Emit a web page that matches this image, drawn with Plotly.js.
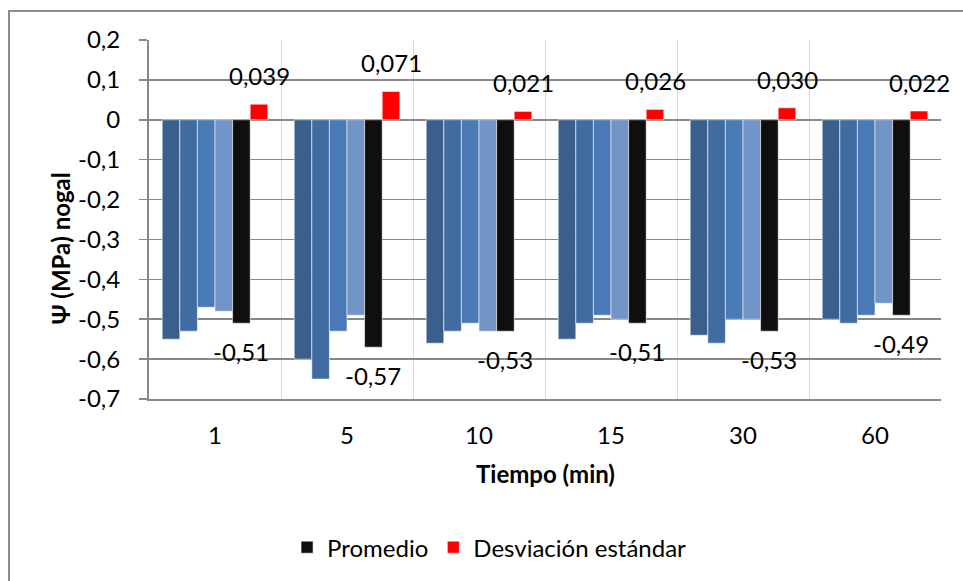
<!DOCTYPE html>
<html>
<head>
<meta charset="utf-8">
<script src="https://cdn.plot.ly/plotly-3.0.1.min.js"></script>
<style>
  html, body { margin: 0; padding: 0; background: #fff; }
  #wrap { position: relative; width: 963px; height: 581px; overflow: hidden; }
  #chart { width: 963px; height: 581px; }
  #frame { position: absolute; left: 8px; top: 10px; width: 970px; height: 600px;
           border-left: 2px solid #8c8c8c; border-top: 2px solid #8c8c8c; pointer-events: none; }
</style>
</head>
<body>
<div id="wrap">
  <div id="chart"></div>
  <div id="frame"></div>
</div>
<script>
// Tiempo (min) en que se midió el potencial hídrico del nogal
const tiempos = ['1', '5', '10', '15', '30', '60'];

// Cuatro repeticiones de Ψ (MPa) por tiempo
const rep1 = [-0.55, -0.60, -0.56, -0.55, -0.54, -0.50];
const rep2 = [-0.53, -0.65, -0.53, -0.51, -0.56, -0.51];
const rep3 = [-0.47, -0.53, -0.51, -0.49, -0.50, -0.49];
const rep4 = [-0.48, -0.49, -0.53, -0.50, -0.50, -0.46];

// Promedio y desviación estándar
const promedio = [-0.51, -0.57, -0.53, -0.51, -0.53, -0.49];
const desviacion = [0.039, 0.071, 0.021, 0.026, 0.030, 0.022];

// Marcas del eje Y
const yTicks = [0.2, 0.1, 0, -0.1, -0.2, -0.3, -0.4, -0.5, -0.6, -0.7];
const yTickText = ['0,2', '0,1', '0', '-0,1', '-0,2', '-0,3', '-0,4', '-0,5', '-0,6', '-0,7'];

const FONT = 'Lato, "Open Sans", sans-serif';
const FS = 24;
const fmt = (v, d) => v.toFixed(d).replace('.', ',');

// Geometría de las barras agrupadas (6 barras por categoría)
const W = 963, H = 581;
const M = { l: 149, r: 22, t: 40, b: 181 };
const BARGAP = 0.2;
const NBARS = 6;
const catPx = (W - M.l - M.r) / tiempos.length;
const barPx = catPx * (1 - BARGAP) / NBARS;
const barShift = k => -catPx * (1 - BARGAP) / 2 + (k + 0.5) * barPx;

const repColors = ['#3a5f8b', '#416ca1', '#4a7ab5', '#7294c6'];
const reps = [rep1, rep2, rep3, rep4];
const edge = { color: 'rgba(255,255,255,0.55)', width: 1 };

const traces = reps.map((vals, i) => ({
  type: 'bar',
  x: tiempos,
  y: vals,
  name: 'Rep ' + (i + 1),
  showlegend: false,
  marker: { color: repColors[i], line: edge }
}));

traces.push({
  type: 'bar', x: tiempos, y: promedio, name: 'Promedio',
  marker: { color: '#0f0f0f', line: edge }
});

traces.push({
  type: 'bar', x: tiempos, y: desviacion, name: 'Desviación estándar',
  marker: { color: '#ff0000', line: edge }
});

// Etiquetas de datos: promedio bajo su barra, desviación sobre la suya
const labels = [];
tiempos.forEach((t, i) => {
  labels.push({
    x: i, y: promedio[i], xref: 'x', yref: 'y',
    text: fmt(promedio[i], 2), showarrow: false,
    xshift: barShift(4), yshift: -12, yanchor: 'top', xanchor: 'center',
    font: { family: FONT, size: FS, color: '#000' }
  });
  labels.push({
    x: i, y: desviacion[i], xref: 'x', yref: 'y',
    text: fmt(desviacion[i], 3), showarrow: false,
    xshift: barShift(5), yshift: 12, yanchor: 'bottom', xanchor: 'center',
    font: { family: FONT, size: FS, color: '#000' }
  });
});

// Títulos de los ejes
labels.push({
  xref: 'paper', yref: 'paper', x: -0.112, y: 0.42,
  text: '<b>Ψ (MPa) nogal</b>', textangle: -90, showarrow: false,
  xanchor: 'center', yanchor: 'middle',
  font: { family: FONT, size: FS, color: '#000' }
});
labels.push({
  xref: 'paper', yref: 'paper', x: 0.5, y: -0.208,
  text: '<b>Tiempo (min)</b>', showarrow: false,
  xanchor: 'center', yanchor: 'middle',
  font: { family: FONT, size: FS, color: '#000' }
});

const layout = {
  width: W,
  height: H,
  margin: M,
  paper_bgcolor: '#fff',
  plot_bgcolor: '#fff',
  font: { family: FONT, size: FS, color: '#000' },
  barmode: 'group',
  bargap: BARGAP,
  bargroupgap: 0,
  xaxis: {
    type: 'category',
    categoryorder: 'array',
    categoryarray: tiempos,
    range: [-0.5, tiempos.length - 0.5],
    autorange: false,
    tickson: 'boundaries',
    showgrid: true,
    gridcolor: '#cddcf2',
    gridwidth: 1,
    showline: true,
    linecolor: '#888888',
    linewidth: 2,
    ticks: '',
    ticklabelstandoff: 14,
    tickangle: 0,
    zeroline: false,
    tickfont: { family: FONT, size: FS },
    fixedrange: true
  },
  yaxis: {
    range: [-0.7, 0.2],
    autorange: false,
    tickvals: yTicks,
    ticktext: yTickText,
    showgrid: true,
    gridcolor: '#888888',
    gridwidth: 1.5,
    zeroline: true,
    zerolinecolor: '#888888',
    zerolinewidth: 2,
    showline: true,
    linecolor: '#888888',
    linewidth: 2,
    ticks: 'outside',
    ticklen: 8,
    tickcolor: '#888888',
    tickwidth: 1.5,
    ticklabelstandoff: 14,
    tickfont: { family: FONT, size: FS },
    fixedrange: true
  },
  annotations: labels,
  legend: {
    orientation: 'h',
    x: 0.43,
    xanchor: 'center',
    y: -0.41,
    yanchor: 'middle',
    font: { family: FONT, size: FS },
    traceorder: 'normal',
    itemwidth: 30
  },
  showlegend: true
};

Plotly.newPlot('chart', traces, layout, { staticPlot: true, displayModeBar: false });
</script>
</body>
</html>
